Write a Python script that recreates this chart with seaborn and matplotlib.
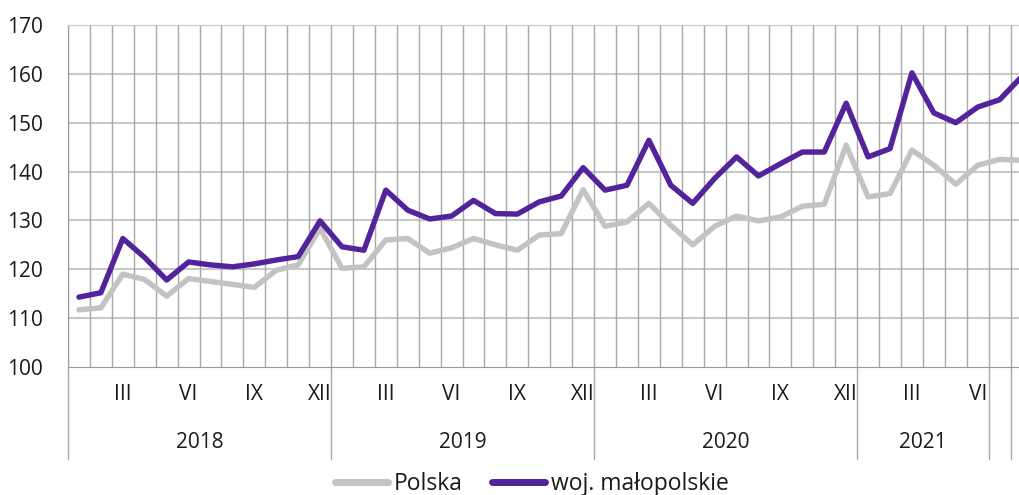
import matplotlib
matplotlib.use("Agg")
import matplotlib.pyplot as plt
import matplotlib.transforms as mtransforms
from matplotlib.lines import Line2D
import seaborn as sns
import pandas as pd

# monthly index values, I 2018 - VIII 2021
polska = [111.7, 112.1, 119.0, 117.9, 114.5, 118.1, 117.5, 116.9, 116.3, 119.8, 120.9, 128.4,
          120.2, 120.5, 126.0, 126.3, 123.3, 124.4, 126.3, 125.0, 123.9, 127.0, 127.3, 136.3,
          128.8, 129.7, 133.5, 129.0, 125.0, 128.8, 130.9, 129.9, 130.7, 132.9, 133.3, 145.4,
          134.8, 135.5, 144.4, 141.3, 137.4, 141.3, 142.5, 142.3]
malopolskie = [114.3, 115.2, 126.3, 122.4, 117.8, 121.5, 120.9, 120.5, 121.1, 121.9, 122.6, 129.9,
               124.6, 123.9, 136.2, 132.1, 130.3, 130.9, 134.1, 131.4, 131.3, 133.8, 135.0, 140.8,
               136.2, 137.2, 146.4, 137.2, 133.5, 138.6, 143.0, 139.1, 141.6, 144.0, 144.0, 154.0,
               143.0, 144.7, 160.2, 152.0, 150.0, 153.2, 154.7, 159.4]
series_names = ["Polska", "woj. małopolskie"]
years = ["2018", "2019", "2020", "2021"]
quarter_labels = ["III", "VI", "IX", "XII"]

n = len(polska)
months = list(range(n))
df = pd.DataFrame({
    "month": months * 2,
    "value": polska + malopolskie,
    "seria": [series_names[0]] * n + [series_names[1]] * n,
})
colors = {"Polska": "#c3c3c3", "woj. małopolskie": "#52239a"}

sns.set_style("white")
plt.rcParams["font.family"] = ["Open Sans", "DejaVu Sans"]

fig = plt.figure(figsize=(10.2, 4.95), dpi=100)
ax = fig.add_axes([68 / 1020, 128 / 495, 964.5 / 1020, 342 / 495])

# grid
for y in range(110, 171, 10):
    ax.axhline(y, color="#c8c8c8", lw=1.5, zorder=0)
for i in range(n + 1):
    ax.axvline(i - 0.5, color="#a8a8a8", lw=1.0, zorder=0)

sns.lineplot(data=df, x="month", y="value", hue="seria", palette=colors,
             lw=3.9, ax=ax, legend=False)

ax.set_xlim(-0.5, n - 0.5)
ax.set_ylim(100, 170)
ax.set_yticks(range(100, 171, 10))
ax.tick_params(axis="y", labelsize=15, length=0, pad=18, labelcolor="#1a1a1a")
ax.set_xlabel("")
ax.set_ylabel("")

# month labels
qpos = [i for i in months if i % 3 == 2]
ax.set_xticks(qpos)
ax.set_xticklabels([quarter_labels[(i // 3) % 4] for i in qpos])
ax.tick_params(axis="x", labelsize=15, length=0, pad=12, labelcolor="#1a1a1a")

ax.spines["right"].set_visible(False)
ax.spines["top"].set_color("#c8c8c8")
ax.spines["left"].set_color("#9a9a9a")
ax.spines["bottom"].set_color("#9a9a9a")

# year groups below axis
trans = mtransforms.blended_transform_factory(ax.transData, ax.transAxes)
seps = [-0.5, 11.5, 23.5, 35.5, 41.5, 42.5]
for s in seps:
    ax.plot([s, s], [0, -0.27], color="#a8a8a8", lw=1.0, transform=trans, clip_on=False)
year_centers = [5.5, 17.5, 29.5, 38.5]
for yr, c in zip(years, year_centers):
    ax.text(c, -0.22, yr, transform=trans, ha="center", va="center",
            fontsize=15, color="#1a1a1a")

# legend
handles = [Line2D([], [], color=colors[s], lw=5) for s in series_names]
fig.legend(handles, series_names, loc="center", bbox_to_anchor=(532 / 1020, 11 / 495),
           ncol=2, frameon=False, fontsize=16.5, handlelength=2.3, handletextpad=0.25,
           columnspacing=1.3, labelcolor="#1a1a1a")

fig.savefig("out.png", dpi=100)
